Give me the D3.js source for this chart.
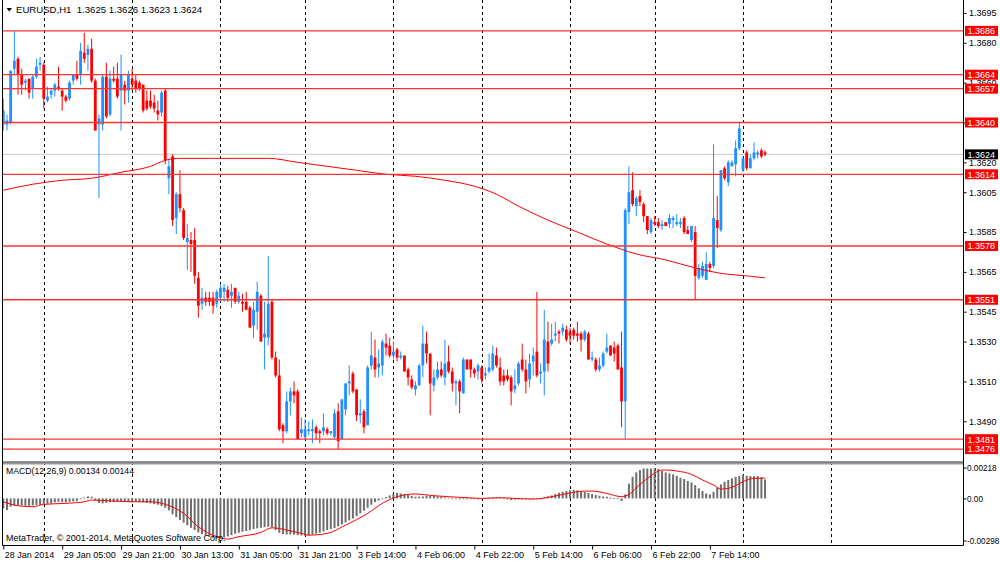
<!DOCTYPE html>
<html>
<head>
<meta charset="utf-8">
<script src="https://cdn.jsdelivr.net/npm/d3@7"></script>
<style>
  body { margin: 0; background: #fff; }
  svg { display: block; }
  text { font-family: "Liberation Sans", Arial, sans-serif; }
</style>
</head>
<body>
<svg id="chart" width="1000" height="562"></svg>
<script>
// EURUSD H1 bars, [open, high, low, close]
const ohlc = [
  [1.3639,1.3652,1.3636,1.3646],[1.3639,1.3644,1.3636,1.3641],[1.3640,1.3666,1.3639,1.3666],[1.3667,1.3686,1.3664,1.3671],
  [1.3672,1.3673,1.3654,1.3664],[1.3664,1.3667,1.3654,1.3659],[1.3660,1.3662,1.3656,1.3661],[1.3662,1.3662,1.3652,1.3655],
  [1.3657,1.3664,1.3652,1.3663],[1.3663,1.3672,1.3662,1.3668],[1.3669,1.3673,1.3666,1.3670],[1.3669,1.3670,1.3647,1.3652],
  [1.3651,1.3658,1.3650,1.3653],[1.3654,1.3657,1.3652,1.3656],[1.3656,1.3660,1.3653,1.3659],[1.3658,1.3668,1.3656,1.3657],
  [1.3656,1.3657,1.3646,1.3653],[1.3653,1.3654,1.3650,1.3651],[1.3652,1.3661,1.3651,1.3660],[1.3661,1.3664,1.3659,1.3664],
  [1.3664,1.3671,1.3661,1.3662],[1.3664,1.3680,1.3659,1.3676],[1.3675,1.3685,1.3670,1.3672],[1.3674,1.3679,1.3666,1.3677],
  [1.3677,1.3682,1.3660,1.3661],[1.3661,1.3662,1.3636,1.3636],[1.3639,1.3644,1.3602,1.3642],[1.3639,1.3664,1.3636,1.3663],
  [1.3663,1.3670,1.3642,1.3643],[1.3644,1.3666,1.3643,1.3662],[1.3662,1.3668,1.3660,1.3661],[1.3662,1.3670,1.3652,1.3653],
  [1.3656,1.3674,1.3636,1.3664],[1.3659,1.3661,1.3649,1.3656],[1.3656,1.3666,1.3650,1.3664],[1.3662,1.3667,1.3656,1.3659],
  [1.3661,1.3664,1.3655,1.3657],[1.3660,1.3661,1.3656,1.3657],[1.3659,1.3659,1.3645,1.3646],[1.3651,1.3656,1.3646,1.3647],
  [1.3651,1.3656,1.3647,1.3648],[1.3650,1.3654,1.3645,1.3647],[1.3646,1.3651,1.3641,1.3644],[1.3645,1.3656,1.3643,1.3655],
  [1.3656,1.3657,1.3619,1.3621],[1.3612,1.3622,1.3604,1.3618],[1.3623,1.3624,1.3588,1.3591],[1.3592,1.3605,1.3584,1.3604],
  [1.3604,1.3616,1.3595,1.3597],[1.3596,1.3597,1.3581,1.3582],[1.3580,1.3589,1.3566,1.3582],[1.3581,1.3585,1.3565,1.3579],
  [1.3581,1.3587,1.3559,1.3563],[1.3562,1.3565,1.3542,1.3548],[1.3549,1.3557,1.3546,1.3552],[1.3552,1.3555,1.3548,1.3550],
  [1.3552,1.3555,1.3548,1.3550],[1.3552,1.3555,1.3544,1.3548],[1.3549,1.3556,1.3547,1.3555],[1.3552,1.3559,1.3550,1.3557],
  [1.3555,1.3559,1.3550,1.3557],[1.3556,1.3558,1.3550,1.3552],[1.3553,1.3559,1.3547,1.3555],[1.3557,1.3557,1.3549,1.3550],
  [1.3550,1.3555,1.3549,1.3553],[1.3550,1.3554,1.3545,1.3549],[1.3550,1.3555,1.3546,1.3546],[1.3547,1.3548,1.3537,1.3537],
  [1.3538,1.3550,1.3532,1.3546],[1.3545,1.3560,1.3536,1.3555],[1.3553,1.3554,1.3530,1.3530],[1.3532,1.3550,1.3516,1.3534],
  [1.3532,1.3573,1.3528,1.3549],[1.3550,1.3551,1.3521,1.3522],[1.3522,1.3525,1.3512,1.3513],[1.3513,1.3521,1.3485,1.3486],
  [1.3488,1.3489,1.3479,1.3485],[1.3485,1.3505,1.3484,1.3500],[1.3500,1.3507,1.3493,1.3505],[1.3505,1.3510,1.3499,1.3503],
  [1.3505,1.3506,1.3481,1.3481],[1.3484,1.3492,1.3482,1.3486],[1.3482,1.3491,1.3481,1.3486],[1.3485,1.3490,1.3483,1.3486],
  [1.3485,1.3491,1.3479,1.3486],[1.3487,1.3488,1.3481,1.3484],[1.3485,1.3486,1.3479,1.3484],[1.3485,1.3494,1.3483,1.3487],
  [1.3486,1.3487,1.3483,1.3484],[1.3484,1.3485,1.3483,1.3485],[1.3482,1.3496,1.3481,1.3494],[1.3495,1.3499,1.3476,1.3480],
  [1.3481,1.3501,1.3481,1.3501],[1.3496,1.3509,1.3493,1.3509],[1.3509,1.3518,1.3503,1.3510],[1.3514,1.3515,1.3504,1.3505],
  [1.3506,1.3506,1.3490,1.3493],[1.3493,1.3501,1.3489,1.3494],[1.3495,1.3496,1.3484,1.3487],[1.3488,1.3518,1.3488,1.3517],
  [1.3518,1.3535,1.3516,1.3523],[1.3522,1.3531,1.3512,1.3516],[1.3517,1.3526,1.3512,1.3519],[1.3518,1.3531,1.3513,1.3530],
  [1.3529,1.3534,1.3523,1.3527],[1.3528,1.3532,1.3522,1.3523],[1.3523,1.3530,1.3521,1.3525],[1.3526,1.3527,1.3520,1.3522],
  [1.3522,1.3525,1.3521,1.3523],[1.3523,1.3523,1.3515,1.3515],[1.3516,1.3517,1.3508,1.3512],[1.3511,1.3513,1.3506,1.3507],
  [1.3506,1.3510,1.3503,1.3508],[1.3508,1.3519,1.3508,1.3518],[1.3518,1.3538,1.3512,1.3529],[1.3529,1.3535,1.3519,1.3524],
  [1.3524,1.3524,1.3493,1.3509],[1.3508,1.3516,1.3505,1.3512],[1.3512,1.3520,1.3511,1.3516],[1.3516,1.3520,1.3512,1.3513],
  [1.3512,1.3531,1.3508,1.3519],[1.3520,1.3528,1.3514,1.3515],[1.3515,1.3517,1.3505,1.3509],[1.3509,1.3511,1.3498,1.3510],
  [1.3510,1.3511,1.3494,1.3505],[1.3504,1.3522,1.3504,1.3521],[1.3521,1.3521,1.3516,1.3516],[1.3521,1.3521,1.3512,1.3516],
  [1.3516,1.3517,1.3512,1.3514],[1.3515,1.3519,1.3511,1.3518],[1.3517,1.3518,1.3509,1.3511],[1.3513,1.3517,1.3511,1.3514],
  [1.3515,1.3524,1.3514,1.3517],[1.3516,1.3528,1.3515,1.3524],[1.3523,1.3527,1.3517,1.3518],[1.3517,1.3522,1.3508,1.3510],
  [1.3513,1.3516,1.3508,1.3510],[1.3513,1.3516,1.3510,1.3511],[1.3512,1.3513,1.3498,1.3505],[1.3506,1.3516,1.3504,1.3508],
  [1.3509,1.3520,1.3508,1.3519],[1.3521,1.3529,1.3515,1.3516],[1.3516,1.3521,1.3504,1.3510],[1.3511,1.3524,1.3507,1.3519],
  [1.3520,1.3527,1.3513,1.3523],[1.3525,1.3555,1.3512,1.3513],[1.3514,1.3519,1.3509,1.3515],[1.3515,1.3546,1.3503,1.3531],
  [1.3530,1.3540,1.3515,1.3519],[1.3529,1.3539,1.3528,1.3531],[1.3533,1.3540,1.3530,1.3534],[1.3535,1.3536,1.3529,1.3534],
  [1.3535,1.3539,1.3533,1.3537],[1.3536,1.3538,1.3530,1.3531],[1.3535,1.3537,1.3529,1.3533],[1.3536,1.3537,1.3531,1.3533],
  [1.3534,1.3540,1.3530,1.3533],[1.3534,1.3535,1.3525,1.3531],[1.3531,1.3536,1.3530,1.3535],[1.3534,1.3535,1.3521,1.3521],
  [1.3521,1.3525,1.3520,1.3522],[1.3521,1.3522,1.3515,1.3516],[1.3516,1.3522,1.3515,1.3518],[1.3518,1.3525,1.3517,1.3524],
  [1.3525,1.3534,1.3524,1.3527],[1.3528,1.3528,1.3523,1.3523],[1.3527,1.3530,1.3520,1.3524],[1.3528,1.3529,1.3516,1.3516],
  [1.3517,1.3535,1.3487,1.3500],[1.3500,1.3597,1.3481,1.3596],[1.3595,1.3618,1.3589,1.3605],[1.3606,1.3615,1.3598,1.3599],
  [1.3598,1.3603,1.3593,1.3602],[1.3603,1.3606,1.3598,1.3600],[1.3599,1.3600,1.3590,1.3593],[1.3593,1.3593,1.3584,1.3586],
  [1.3585,1.3592,1.3584,1.3591],[1.3590,1.3593,1.3588,1.3589],[1.3590,1.3592,1.3587,1.3588],[1.3588,1.3591,1.3586,1.3589],
  [1.3590,1.3590,1.3588,1.3588],[1.3589,1.3594,1.3587,1.3592],[1.3591,1.3593,1.3587,1.3592],[1.3589,1.3594,1.3588,1.3590],
  [1.3589,1.3592,1.3587,1.3590],[1.3592,1.3593,1.3584,1.3585],[1.3586,1.3588,1.3584,1.3584],[1.3581,1.3588,1.3580,1.3588],
  [1.3585,1.3588,1.3551,1.3563],[1.3562,1.3569,1.3561,1.3567],[1.3563,1.3570,1.3562,1.3568],[1.3561,1.3575,1.3561,1.3569],
  [1.3569,1.3570,1.3565,1.3567],[1.3568,1.3629,1.3567,1.3592],[1.3591,1.3603,1.3577,1.3587],[1.3586,1.3616,1.3585,1.3616],
  [1.3617,1.3618,1.3611,1.3612],[1.3610,1.3621,1.3608,1.3620],[1.3618,1.3621,1.3618,1.3620],[1.3619,1.3631,1.3613,1.3627],
  [1.3627,1.3640,1.3626,1.3637],[1.3616,1.3623,1.3615,1.3622],[1.3625,1.3626,1.3616,1.3617],[1.3617,1.3624,1.3617,1.3622],
  [1.3622,1.3630,1.3621,1.3625],[1.3624,1.3626,1.3622,1.3625],[1.3626,1.3627,1.3622,1.3623],[1.3625,1.3626,1.3623,1.3624]
];

// moving average read at sample bars [bar, price]
const maLine = [
  [0,1.3606],[8,1.3609],[16,1.3611],[24,1.3612],[32,1.3615],[40,1.3618],[44,1.3621],[48,1.3622],
  [56,1.3622],[64,1.3622],[72,1.3622],[80,1.3620],[88,1.3618],[96,1.3616],[104,1.3614],[112,1.3613],
  [120,1.3611],[128,1.3608],[134,1.3604],[140,1.3598],[148,1.3591],[156,1.3585],[164,1.3579],
  [172,1.3574],[180,1.3571],[188,1.3567],[196,1.3564],[202,1.3563],[207,1.3562]
];

// MACD(12,26,9) main values, one per bar
const macdHist = [
  -0.00071,-0.00083,-0.00059,-0.00052,-0.00047,-0.00050,-0.00052,-0.00052,-0.00050,-0.00047,
  -0.00045,-0.00042,-0.00038,-0.00035,-0.00028,-0.00024,-0.00026,-0.00028,-0.00024,-0.00021,
  -0.00019,-0.00007,0.00007,0.00014,0.00012,-0.00012,-0.00031,-0.00035,-0.00031,-0.00028,
  -0.00026,-0.00024,-0.00024,-0.00024,-0.00026,-0.00028,-0.00024,-0.00026,-0.00028,-0.00033,
  -0.00035,-0.00040,-0.00045,-0.00054,-0.00066,-0.00085,-0.00113,-0.00132,-0.00153,-0.00172,
  -0.00191,-0.00208,-0.00224,-0.00241,-0.00253,-0.00262,-0.00271,-0.00278,-0.00283,-0.00283,
  -0.00276,-0.00269,-0.00260,-0.00250,-0.00243,-0.00236,-0.00231,-0.00224,-0.00217,-0.00212,
  -0.00208,-0.00203,-0.00201,-0.00205,-0.00224,-0.00243,-0.00253,-0.00255,-0.00255,-0.00257,
  -0.00260,-0.00262,-0.00264,-0.00262,-0.00257,-0.00250,-0.00243,-0.00234,-0.00224,-0.00217,
  -0.00210,-0.00198,-0.00184,-0.00170,-0.00156,-0.00142,-0.00125,-0.00106,-0.00087,-0.00066,
  -0.00045,-0.00026,-0.00014,-0.00002,0.00009,0.00021,0.00033,0.00040,0.00035,0.00031,
  0.00024,0.00017,0.00012,0.00012,0.00014,0.00019,0.00019,0.00019,0.00014,0.00012,
  0.00007,0.00005,0.00000,-0.00005,-0.00007,-0.00002,0.00000,0.00000,0.00000,-0.00005,
  -0.00005,0.00000,0.00005,0.00007,0.00007,0.00005,-0.00002,-0.00007,-0.00012,-0.00009,
  -0.00007,-0.00005,-0.00005,0.00000,0.00005,0.00002,0.00000,0.00007,0.00014,0.00021,
  0.00031,0.00040,0.00047,0.00052,0.00057,0.00059,0.00057,0.00052,0.00045,0.00038,
  0.00031,0.00024,0.00019,0.00014,0.00012,0.00007,0.00002,-0.00002,-0.00019,0.00028,
  0.00104,0.00153,0.00184,0.00201,0.00212,0.00212,0.00212,0.00212,0.00208,0.00194,
  0.00184,0.00177,0.00170,0.00160,0.00146,0.00137,0.00123,0.00113,0.00094,0.00071,
  0.00052,0.00035,0.00028,0.00047,0.00076,0.00099,0.00118,0.00130,0.00142,0.00153,
  0.00160,0.00165,0.00160,0.00158,0.00158,0.00158,0.00150,0.00134
];

// MACD signal line read at sample bars [bar, value]
const macdSignal = [
  [0,-0.00024],[4,-0.00052],[8,-0.00059],[11,-0.00042],[17,-0.00035],[22,-0.00024],[24,-0.00012],
  [29,-0.00017],[35,-0.00024],[40,-0.00024],[44,-0.00042],[49,-0.00106],[53,-0.00201],[58,-0.00271],
  [61,-0.00288],[64,-0.00271],[70,-0.00241],[73,-0.00208],[77,-0.00224],[81,-0.00248],[83,-0.00260],
  [88,-0.00248],[93,-0.00189],[99,-0.00106],[103,-0.00035],[108,0.00019],[112,0.00031],[117,0.00019],
  [121,0.00012],[126,0.00005],[130,0.00000],[135,0.00005],[139,0.00000],[144,-0.00005],[149,0.00012],
  [153,0.00033],[158,0.00052],[160,0.00052],[164,0.00035],[168,0.00012],[170,0.00028],[173,0.00099],
  [176,0.00160],[179,0.00201],[180,0.00201],[183,0.00194],[187,0.00170],[190,0.00130],[193,0.00094],
  [195,0.00066],[197,0.00071],[199,0.00090],[201,0.00118],[204,0.00142],[207,0.00144]
];

const levels = [1.3686, 1.3664, 1.3657, 1.3640, 1.3614, 1.3578, 1.3551, 1.3481, 1.3476];
const lastPrice = 1.3624;
const priceTicks = [1.3695, 1.3680, 1.3660, 1.3640, 1.3620, 1.3605, 1.3585, 1.3565, 1.3545, 1.3530, 1.3510, 1.3490];
const macdTicks = [0.00218, 0, -0.00298];
const timeLabels = [
  [0,'28 Jan 2014'],[16,'29 Jan 05:00'],[32,'29 Jan 21:00'],[48,'30 Jan 13:00'],[64,'31 Jan 05:00'],
  [80,'31 Jan 21:00'],[96,'3 Feb 14:00'],[112,'4 Feb 06:00'],[128,'4 Feb 22:00'],[144,'5 Feb 14:00'],
  [160,'6 Feb 06:00'],[176,'6 Feb 22:00'],[192,'7 Feb 14:00']
];
const gridBars = [11, 35, 59, 82, 106, 130, 154, 177, 201, 225];

const bull = '#1e90ff', bear = '#ff0000', levelColor = '#ff3333';
const fontSize = 9;
const fontFamily = '"Liberation Sans", Arial, sans-serif';

const svg = d3.select('#chart');
const W = 1000, H = 562;
const plotLeft = 2.5, plotRight = 963.5, mainBottom = 461.5, macdTop = 464.5, macdBottom = 545.5;

const x = d3.scaleLinear().domain([0, 261]).range([3.3, 963.8]);
const y = d3.scaleLinear().domain([1.34698, 1.37015]).range([461.5, 0]);
const ym = d3.scaleLinear().domain([-0.00298, 0.00218]).range([540.5, 467.6]);

svg.append('rect').attr('width', W).attr('height', H).attr('fill', '#fff');

const defs = svg.append('defs');
defs.append('clipPath').attr('id', 'clipMain').append('rect')
  .attr('x', plotLeft).attr('y', 0).attr('width', plotRight - plotLeft).attr('height', mainBottom);
defs.append('clipPath').attr('id', 'clipMacd').append('rect')
  .attr('x', plotLeft).attr('y', macdTop).attr('width', plotRight - plotLeft).attr('height', macdBottom - macdTop);

// vertical dashed grid through both windows
svg.append('g').selectAll('line').data(gridBars).join('line')
  .attr('x1', d => Math.round(x(d)) + 0.5).attr('x2', d => Math.round(x(d)) + 0.5)
  .attr('y1', 0).attr('y2', macdBottom)
  .attr('stroke', '#000').attr('stroke-dasharray', '3,3');

// ---- main window
const main = svg.append('g').attr('clip-path', 'url(#clipMain)');

main.append('line')
  .attr('x1', plotLeft).attr('x2', plotRight)
  .attr('y1', y(lastPrice)).attr('y2', y(lastPrice))
  .attr('stroke', '#c8c8c8');

const colorOf = d => d[3] >= d[0] ? bull : bear;

const bars = main.append('g').selectAll('g').data(ohlc).join('g');
bars.append('line')
  .attr('x1', (d, i) => x(i)).attr('x2', (d, i) => x(i))
  .attr('y1', d => y(d[1])).attr('y2', d => y(d[2]))
  .attr('stroke', colorOf).attr('stroke-width', 1);
bars.append('rect')
  .attr('x', (d, i) => x(i) - 1.4).attr('width', 2.8)
  .attr('y', d => Math.min(y(d[0]), y(d[3])))
  .attr('height', d => Math.max(1, Math.abs(y(d[0]) - y(d[3]))))
  .attr('fill', colorOf);

main.append('path')
  .datum(maLine)
  .attr('d', d3.line().x(d => x(d[0])).y(d => y(d[1])).curve(d3.curveMonotoneX))
  .attr('fill', 'none').attr('stroke', '#ff0000').attr('stroke-width', 1);

main.append('g').selectAll('line').data(levels).join('line')
  .attr('x1', plotLeft).attr('x2', plotRight)
  .attr('y1', d => y(d)).attr('y2', d => y(d))
  .attr('stroke', levelColor).attr('stroke-width', 1.3);

svg.append('text').attr('x', 16).attr('y', 13).attr('font-size', 9.6).attr('fill', '#000')
  .attr('xml:space', 'preserve')
  .text('EURUSD,H1  1.3625 1.3626 1.3623 1.3624');
svg.append('path').attr('d', 'M6.5,8 L12,8 L9.25,11.5 Z').attr('fill', '#000');

// ---- separator between windows
svg.append('rect').attr('x', plotLeft).attr('y', mainBottom).attr('width', plotRight - plotLeft).attr('height', 3)
  .attr('fill', '#9a9a9a');
svg.append('line').attr('x1', plotLeft).attr('x2', plotRight).attr('y1', mainBottom + 0.5).attr('y2', mainBottom + 0.5)
  .attr('stroke', '#666');

// ---- MACD window
const macd = svg.append('g').attr('clip-path', 'url(#clipMacd)');
macd.append('g').selectAll('rect').data(macdHist).join('rect')
  .attr('x', (d, i) => x(i) - 1).attr('width', 2)
  .attr('y', d => Math.min(ym(d), ym(0)))
  .attr('height', d => Math.max(0.8, Math.abs(ym(d) - ym(0))))
  .attr('fill', '#6e6e6e');
macd.append('path')
  .datum(macdSignal)
  .attr('d', d3.line().x(d => x(d[0])).y(d => ym(d[1])).curve(d3.curveMonotoneX))
  .attr('fill', 'none').attr('stroke', '#ff0000').attr('stroke-width', 1);

svg.append('text').attr('x', 6).attr('y', 474).attr('font-size', 8.7).attr('fill', '#000')
  .text('MACD(12,26,9) 0.00134 0.00144');
svg.append('text').attr('x', 6).attr('y', 541).attr('font-size', 9).attr('fill', '#000')
  .text('MetaTrader, © 2001-2014, MetaQuotes Software Corp.');

// ---- frame
const frame = svg.append('g').attr('stroke', '#000').attr('stroke-width', 1);
frame.append('line').attr('x1', plotLeft).attr('x2', plotLeft).attr('y1', 0).attr('y2', macdBottom);
frame.append('line').attr('x1', plotRight).attr('x2', plotRight).attr('y1', 0).attr('y2', macdBottom);
frame.append('line').attr('x1', plotLeft).attr('x2', plotRight).attr('y1', macdBottom).attr('y2', macdBottom);

// ---- price axis
const yAxis = d3.axisRight(y).tickValues(priceTicks).tickSize(3).tickPadding(2.5).tickFormat(d => d.toFixed(4));
svg.append('g').attr('transform', `translate(${plotRight},0)`)
  .call(yAxis)
  .call(g => g.select('.domain').remove())
  .attr('font-size', fontSize).attr('font-family', fontFamily);

const tags = svg.append('g').selectAll('g').data(levels).join('g')
  .attr('transform', d => `translate(965,${y(d)})`);
tags.append('rect').attr('x', 0).attr('y', -5).attr('width', 33).attr('height', 10).attr('fill', '#ff0000');
tags.append('text').attr('x', 2.5).attr('y', 3.3).attr('font-size', fontSize).attr('fill', '#fff')
  .text(d => d.toFixed(4));

const bidTag = svg.append('g').attr('transform', `translate(965,${y(lastPrice)})`);
bidTag.append('rect').attr('x', 0).attr('y', -5).attr('width', 33).attr('height', 10).attr('fill', '#000');
bidTag.append('text').attr('x', 2.5).attr('y', 3.3).attr('font-size', fontSize).attr('fill', '#fff')
  .text(lastPrice.toFixed(4));

// ---- MACD axis
const mAxis = d3.axisRight(ym).tickValues(macdTicks).tickSize(3).tickPadding(0.5)
  .tickFormat(d => d === 0 ? '0.00' : d.toFixed(5));
svg.append('g').attr('transform', `translate(${plotRight},0)`)
  .call(mAxis)
  .call(g => g.select('.domain').remove())
  .attr('font-size', 8.2).attr('font-family', fontFamily);

// ---- time axis
const xAxis = d3.axisBottom(x).tickValues(timeLabels.map(d => d[0])).tickSize(4).tickPadding(2.5)
  .tickFormat((d, i) => timeLabels[i][1]);
svg.append('g').attr('transform', `translate(0,${macdBottom})`)
  .call(xAxis)
  .call(g => g.select('.domain').remove())
  .attr('font-size', fontSize).attr('font-family', fontFamily)
  .call(g => g.selectAll('text').attr('text-anchor', 'start').attr('x', 1));
</script>
</body>
</html>
